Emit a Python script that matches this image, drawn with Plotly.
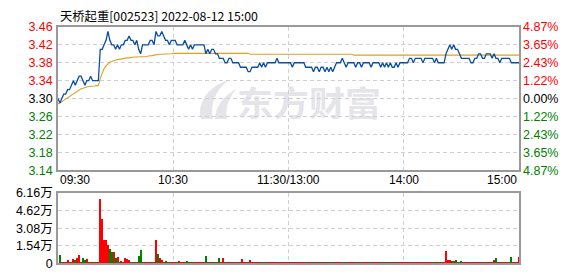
import urllib.parse
import plotly.graph_objects as go

TITLE = "天桥起重[002523] 2022-08-12 15:00"
PREV_CLOSE = 3.30

price = [
    3.30, 3.29, 3.30, 3.31, 3.31, 3.32, 3.32, 3.33, 3.34, 3.33,
    3.34, 3.35, 3.35, 3.34, 3.33, 3.34, 3.34, 3.35, 3.34, 3.34,
    3.34, 3.34, 3.41, 3.41, 3.42, 3.43, 3.45, 3.43, 3.42, 3.42,
    3.41, 3.42, 3.41, 3.42, 3.42, 3.43, 3.43, 3.44, 3.43, 3.43,
    3.42, 3.43, 3.41, 3.40, 3.42, 3.42, 3.42, 3.42, 3.43, 3.43,
    3.42, 3.45, 3.44, 3.44, 3.45, 3.44, 3.43, 3.43, 3.42, 3.43,
    3.43, 3.43, 3.42, 3.42, 3.42, 3.42, 3.43, 3.42, 3.41, 3.42,
    3.41, 3.42, 3.42, 3.42, 3.42, 3.42, 3.42, 3.40, 3.41, 3.40,
    3.41, 3.41, 3.40, 3.40, 3.39, 3.39, 3.39, 3.38, 3.38, 3.39,
    3.39, 3.38, 3.38, 3.38, 3.38, 3.37, 3.37, 3.37, 3.37, 3.36,
    3.36, 3.37, 3.37, 3.37, 3.37, 3.38, 3.37, 3.38, 3.37, 3.38,
    3.38, 3.38, 3.38, 3.38, 3.39, 3.38, 3.38, 3.38, 3.38, 3.38,
    3.38, 3.38, 3.37, 3.38, 3.38, 3.38, 3.38, 3.38, 3.38, 3.37,
    3.37, 3.37, 3.37, 3.36, 3.37, 3.37, 3.36, 3.37, 3.37, 3.36,
    3.37, 3.36, 3.37, 3.36, 3.37, 3.38, 3.38, 3.38, 3.39, 3.38,
    3.37, 3.38, 3.38, 3.38, 3.38, 3.37, 3.38, 3.38, 3.37, 3.38,
    3.38, 3.38, 3.38, 3.37, 3.38, 3.38, 3.38, 3.38, 3.37, 3.38,
    3.37, 3.38, 3.37, 3.38, 3.37, 3.37, 3.38, 3.37, 3.38, 3.38,
    3.38, 3.38, 3.38, 3.39, 3.39, 3.38, 3.39, 3.39, 3.39, 3.39,
    3.38, 3.39, 3.39, 3.39, 3.39, 3.39, 3.38, 3.39, 3.38, 3.38,
    3.38, 3.38, 3.40, 3.41, 3.42, 3.41, 3.42, 3.41, 3.41, 3.40,
    3.39, 3.39, 3.39, 3.39, 3.39, 3.38, 3.38, 3.39, 3.39, 3.40,
    3.40, 3.39, 3.39, 3.40, 3.40, 3.40, 3.39, 3.40, 3.39, 3.39,
    3.38, 3.39, 3.39, 3.39, 3.39, 3.39, 3.38, 3.38, 3.38, 3.38,
    3.38,
]

avg_price = [
    3.288, 3.290, 3.293, 3.296, 3.299, 3.302, 3.304, 3.307, 3.310, 3.313,
    3.316, 3.319, 3.322, 3.323, 3.325, 3.326, 3.327, 3.327, 3.328, 3.328,
    3.329, 3.329, 3.345, 3.358, 3.367, 3.373, 3.378, 3.381, 3.383, 3.385,
    3.386, 3.387, 3.388, 3.389, 3.390, 3.390, 3.391, 3.391, 3.392, 3.392,
    3.393, 3.393, 3.393, 3.393, 3.394, 3.394, 3.394, 3.395, 3.395, 3.396,
    3.397, 3.398, 3.399, 3.399, 3.399, 3.399, 3.400, 3.400, 3.400, 3.400,
    3.401, 3.401, 3.401, 3.401, 3.401, 3.401, 3.401, 3.401, 3.401, 3.401,
    3.401, 3.401, 3.401, 3.401, 3.401, 3.401, 3.401, 3.401, 3.401, 3.401,
    3.401, 3.401, 3.401, 3.401, 3.401, 3.401, 3.401, 3.401, 3.401, 3.401,
    3.401, 3.401, 3.401, 3.401, 3.401, 3.401, 3.401, 3.401, 3.401, 3.401,
    3.399, 3.399, 3.399, 3.399, 3.399, 3.399, 3.399, 3.399, 3.399, 3.399,
    3.399, 3.399, 3.399, 3.399, 3.399, 3.399, 3.399, 3.399, 3.399, 3.399,
    3.399, 3.399, 3.399, 3.399, 3.399, 3.399, 3.399, 3.399, 3.399, 3.399,
    3.399, 3.399, 3.399, 3.399, 3.399, 3.399, 3.399, 3.399, 3.399, 3.399,
    3.399, 3.399, 3.399, 3.399, 3.399, 3.399, 3.399, 3.399, 3.399, 3.399,
    3.399, 3.399, 3.399, 3.399, 3.397, 3.397, 3.397, 3.397, 3.397, 3.397,
    3.397, 3.397, 3.397, 3.397, 3.397, 3.397, 3.397, 3.397, 3.397, 3.397,
    3.397, 3.397, 3.397, 3.397, 3.397, 3.397, 3.397, 3.397, 3.397, 3.397,
    3.397, 3.397, 3.397, 3.397, 3.397, 3.397, 3.397, 3.397, 3.397, 3.397,
    3.397, 3.397, 3.397, 3.397, 3.397, 3.397, 3.397, 3.397, 3.397, 3.397,
    3.397, 3.397, 3.397, 3.397, 3.397, 3.397, 3.397, 3.397, 3.397, 3.397,
    3.397, 3.397, 3.397, 3.397, 3.397, 3.397, 3.397, 3.397, 3.397, 3.397,
    3.397, 3.397, 3.397, 3.397, 3.397, 3.397, 3.397, 3.397, 3.397, 3.397,
    3.397, 3.397, 3.397, 3.397, 3.397, 3.397, 3.397, 3.397, 3.397, 3.397,
    3.397,
]

# volume in 万 (10k shares)
volume = [
    0.00, 0.75, 0.10, 0.10, 0.10, 0.25, 0.10, 0.10, 0.33, 0.25,
    0.50, 0.75, 0.10, 0.42, 0.28, 0.33, 0.10, 0.10, 0.10, 0.10,
    0.10, 0.10, 5.66, 3.91, 2.00, 2.08, 1.61, 1.25, 1.00, 1.00,
    0.50, 0.58, 0.10, 0.17, 0.10, 0.50, 0.33, 0.25, 0.10, 0.10,
    0.10, 0.10, 0.67, 1.17, 0.10, 0.10, 0.10, 0.10, 0.10, 0.10,
    0.10, 2.00, 0.83, 0.50, 0.25, 0.10, 0.17, 0.10, 0.10, 0.10,
    0.10, 0.10, 0.10, 0.17, 0.10, 0.10, 0.10, 0.17, 0.10, 0.10,
    0.10, 0.10, 0.10, 0.10, 0.10, 0.10, 0.10, 0.67, 0.10, 0.10,
    0.10, 0.10, 0.10, 0.10, 0.50, 0.10, 0.50, 0.10, 0.10, 0.10,
    0.10, 0.10, 0.10, 0.10, 0.10, 0.10, 0.33, 0.10, 0.10, 0.10,
    0.25, 0.10, 0.10, 0.10, 0.10, 0.10, 0.10, 0.10, 0.10, 0.12,
    0.10, 0.10, 0.10, 0.10, 0.10, 0.10, 0.10, 0.10, 0.10, 0.10,
    0.10, 0.10, 0.10, 0.10, 0.10, 0.10, 0.10, 0.10, 0.10, 0.10,
    0.10, 0.10, 0.10, 0.10, 0.10, 0.10, 0.10, 0.10, 0.10, 0.10,
    0.10, 0.10, 0.10, 0.10, 0.10, 0.10, 0.10, 0.10, 0.10, 0.10,
    0.10, 0.10, 0.10, 0.10, 0.10, 0.10, 0.10, 0.10, 0.10, 0.10,
    0.10, 0.10, 0.10, 0.10, 0.10, 0.10, 0.10, 0.10, 0.10, 0.10,
    0.10, 0.10, 0.10, 0.10, 0.10, 0.10, 0.10, 0.10, 0.10, 0.10,
    0.10, 0.10, 0.10, 0.10, 0.10, 0.10, 0.10, 0.10, 0.10, 0.10,
    0.10, 0.10, 0.10, 0.10, 0.10, 0.10, 0.10, 0.10, 0.10, 0.10,
    0.10, 0.10, 1.08, 0.25, 0.25, 0.17, 0.17, 0.25, 0.10, 0.10,
    0.17, 0.10, 0.10, 0.10, 0.10, 0.10, 0.10, 0.10, 0.10, 0.10,
    0.10, 0.10, 0.10, 0.10, 0.10, 0.10, 0.10, 0.25, 0.50, 0.10,
    0.10, 0.10, 0.10, 0.10, 0.10, 0.10, 0.58, 0.10, 0.10, 0.10,
    0.58,
]

price_ticks = [3.46, 3.42, 3.38, 3.34, 3.30, 3.26, 3.22, 3.18, 3.14]
price_tick_labels = ["3.46", "3.42", "3.38", "3.34", "3.30", "3.26", "3.22", "3.18", "3.14"]
pct_tick_labels = ["4.87%", "3.65%", "2.43%", "1.22%", "0.00%", "1.22%", "2.43%", "3.65%", "4.87%"]
vol_ticks = [6.16, 4.62, 3.08, 1.54, 0]
vol_tick_labels = ["6.16万", "4.62万", "3.08万", "1.54万", "0"]
time_ticks = [0, 60, 120, 180, 240]
time_labels = ["09:30", "10:30", "11:30/13:00", "14:00", "15:00"]

RED = "#ff0000"
GREEN = "#008000"
BLACK = "#000000"
BLUE = "#0a4ea0"
GOLD = "#e0a020"
GRID = "#d0d0d0"
BORDER = "#999999"
WATERMARK = "#e4e4e9"
FONT = "Liberation Sans, Noto Sans CJK SC, sans-serif"

W, H = 578, 276
PX0, PX1 = 58, 519
MAIN_T, MAIN_B = 21, 172
VOL_T, VOL_B = 196, 270

minutes = list(range(len(price)))


def tick_color(v):
    if v > PREV_CLOSE + 1e-9:
        return RED
    if v < PREV_CLOSE - 1e-9:
        return GREEN
    return BLACK


left_text = [f"<span style='color:{tick_color(v)}'>{t}</span>" for v, t in zip(price_ticks, price_tick_labels)]
right_text = [f"<span style='color:{tick_color(v)}'>{t}</span>" for v, t in zip(price_ticks, pct_tick_labels)]

bar_colors = [RED]
for i in range(1, len(price)):
    bar_colors.append(GREEN if price[i] < price[i - 1] else RED)

fig = go.Figure()
fig.add_trace(go.Scatter(x=minutes, y=avg_price, mode="lines", line=dict(color=GOLD, width=1.1),
                         xaxis="x", yaxis="y", hoverinfo="skip", showlegend=False))
fig.add_trace(go.Scatter(x=minutes, y=price, mode="lines", line=dict(color=BLUE, width=1.3),
                         xaxis="x", yaxis="y", showlegend=False))
fig.add_trace(go.Bar(x=minutes, y=volume, marker=dict(color=bar_colors, line=dict(width=0)),
                     width=0.55, xaxis="x2", yaxis="y2", showlegend=False))
# dummy trace to activate right axis
fig.add_trace(go.Scatter(x=[None], y=[None], xaxis="x", yaxis="y3", showlegend=False, hoverinfo="skip"))

xdom = [PX0 / W, PX1 / W]
common_x = dict(range=[0, 240], domain=xdom, tickvals=time_ticks[1:4], showticklabels=False,
                showgrid=True, gridcolor=GRID, griddash="4px,3px", gridwidth=1,
                showline=True, mirror=True, linecolor=BORDER, linewidth=1.5,
                zeroline=False, ticks="", fixedrange=True)

fig.update_layout(
    width=W, height=H,
    margin=dict(l=0, r=0, t=0, b=0),
    paper_bgcolor="white", plot_bgcolor="rgba(0,0,0,0)",
    font=dict(family=FONT, size=12, color=BLACK),
    bargap=0,
    xaxis=dict(anchor="y", **common_x),
    xaxis2=dict(anchor="y2", **common_x),
    yaxis=dict(domain=[1 - MAIN_B / H, 1 - MAIN_T / H], range=[3.14, 3.46], anchor="x",
               tickvals=price_ticks, ticktext=left_text, tickfont=dict(size=12.5),
               showgrid=True, gridcolor=GRID, griddash="4px,3px",
               showline=True, mirror=True, linecolor=BORDER, linewidth=1.5,
               zeroline=False, ticks="", ticklabelstandoff=1),
    yaxis3=dict(overlaying="y", side="right", range=[3.14, 3.46], anchor="x",
                tickvals=price_ticks, ticktext=right_text, tickfont=dict(size=12.5),
                showgrid=False, showline=False, zeroline=False, ticks="", ticklabelstandoff=3),
    yaxis2=dict(domain=[1 - VOL_B / H, 1 - VOL_T / H], range=[0, 6.16], anchor="x2",
                tickvals=vol_ticks, ticktext=vol_tick_labels, tickfont=dict(size=12.5),
                showgrid=True, gridcolor=GRID, griddash="4px,3px",
                showline=True, mirror=True, linecolor=BORDER, linewidth=1.5,
                zeroline=False, ticks="", ticklabelstandoff=1),
)

annotations = []
anchors = ["left", "center", "center", "center", "right"]
for t, lab, anc in zip(time_ticks, time_labels, anchors):
    annotations.append(dict(x=t, y=1 - 182 / H, xref="x", yref="paper", text=lab, showarrow=False,
                            xanchor=anc, yanchor="middle", font=dict(size=12, color=BLACK)))
annotations.append(dict(x=PX0 / W, y=1 - 9.5 / H, xref="paper", yref="paper", text=TITLE, showarrow=False,
                        xanchor="left", yanchor="middle",
                        font=dict(family="Noto Sans CJK SC", size=12.3, color=BLACK)))
fig.update_layout(annotations=annotations)

# watermark (logo + 东方财富) drawn below traces
svg = (
    "<svg xmlns='http://www.w3.org/2000/svg' width='190' height='44' viewBox='0 0 190 44'>"
    f"<path d='M6 42 C 2 26, 12 8, 34 1 C 20 12, 15 26, 18 42 Z' fill='{WATERMARK}'/>"
    f"<path d='M20 42 C 20 30, 28 17, 42 10 C 33 20, 30 31, 32 42 Z' fill='{WATERMARK}'/>"
    f"<text x='42' y='39' font-family='Noto Sans CJK SC' font-weight='bold' font-size='36' "
    f"fill='{WATERMARK}'>东方财富</text></svg>"
)
src = "data:image/svg+xml;charset=utf-8," + urllib.parse.quote(svg)
fig.add_layout_image(dict(source=src, xref="paper", yref="paper", x=195 / W, y=1 - 76 / H,
                          sizex=190 / W, sizey=44 / H, sizing="stretch", xanchor="left",
                          yanchor="top", layer="below"))

fig.write_html("out.html")
